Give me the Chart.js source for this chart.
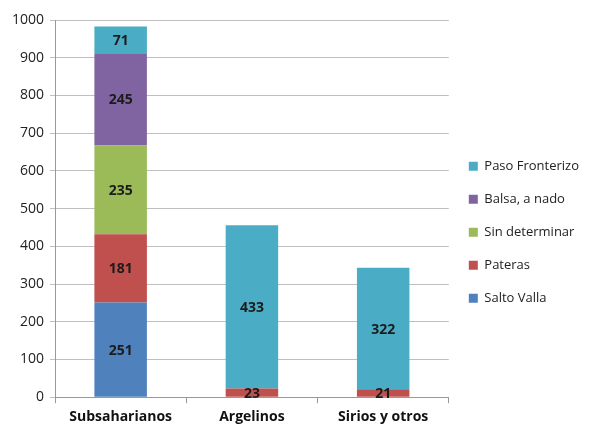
<!DOCTYPE html>
<html>
<head>
<meta charset="utf-8">
<script src="https://cdn.jsdelivr.net/npm/chart.js@4/dist/chart.umd.min.js"></script>
<style>
  html, body { margin: 0; padding: 0; background: #fff; }
  #wrap { width: 609px; height: 430px; position: relative; }
</style>
</head>
<body>
<div id="wrap"><canvas id="chart"></canvas></div>
<script>
// Categories and series
const categories = ['Subsaharianos', 'Argelinos', 'Sirios y otros'];
const saltoValla = [251, 0, 0];
const pateras = [181, 23, 21];
const sinDeterminar = [235, 0, 0];
const balsa = [245, 0, 0];
const pasoFronterizo = [71, 433, 322];

// Labels inside each stacked segment
const segmentLabels = {
    id: 'segmentLabels',
    afterDatasetsDraw(chart) {
        const ctx = chart.ctx;
        ctx.save();
        ctx.font = 'bold 14px "Open Sans", sans-serif';
        ctx.fillStyle = '#1b1b1b';
        ctx.textAlign = 'center';
        ctx.textBaseline = 'middle';
        chart.data.datasets.forEach(function(ds, i) {
            const meta = chart.getDatasetMeta(i);
            meta.data.forEach(function(bar, j) {
                const v = ds.data[j];
                if (!v) return;
                ctx.fillText(v, bar.x, (bar.y + bar.base) / 2 + 1);
            });
        });
        ctx.restore();
    }
};

new Chart(document.getElementById('chart'), {
    type: 'bar',
    data: {
        labels: categories,
        datasets: [
            { label: 'Salto Valla', data: saltoValla, backgroundColor: '#4F81BD' },
            { label: 'Pateras', data: pateras, backgroundColor: '#C0504D' },
            { label: 'Sin determinar', data: sinDeterminar, backgroundColor: '#9BBB59' },
            { label: 'Balsa, a nado', data: balsa, backgroundColor: '#8064A2' },
            { label: 'Paso Fronterizo', data: pasoFronterizo, backgroundColor: '#4BACC6' }
        ]
    },
    options: {
        responsive: true,
        maintainAspectRatio: false,
        animation: false,
        layout: { padding: { top: 20, right: 20, bottom: 0, left: 6 } },
        datasets: { bar: { categoryPercentage: 1, barPercentage: 0.4 } },
        plugins: {
            legend: {
                position: 'right',
                reverse: true,
                title: { display: true, text: ' ', padding: 0, font: { size: 12 } },
                labels: {
                    boxWidth: 9,
                    boxHeight: 9,
                    padding: 20,
                    color: '#222',
                    font: { family: '"Open Sans", sans-serif', size: 13 }
                }
            },
            tooltip: { enabled: false }
        },
        scales: {
            x: {
                stacked: true,
                grid: { display: true, drawOnChartArea: false, offset: true, tickLength: 6, color: '#999' },
                border: { color: '#999' },
                ticks: { color: '#111', padding: 5, font: { family: '"Open Sans", sans-serif', size: 14, weight: 'bold' } }
            },
            y: {
                stacked: true,
                min: 0,
                max: 1000,
                ticks: {
                    stepSize: 100,
                    color: '#222',
                    padding: 6,
                    font: { family: '"Open Sans", sans-serif', size: 14 },
                    callback: function(v) { return String(v); }
                },
                grid: { color: '#bfbfbf', tickLength: 5 },
                border: { color: '#999' }
            }
        }
    },
    plugins: [segmentLabels]
});
</script>
</body>
</html>
